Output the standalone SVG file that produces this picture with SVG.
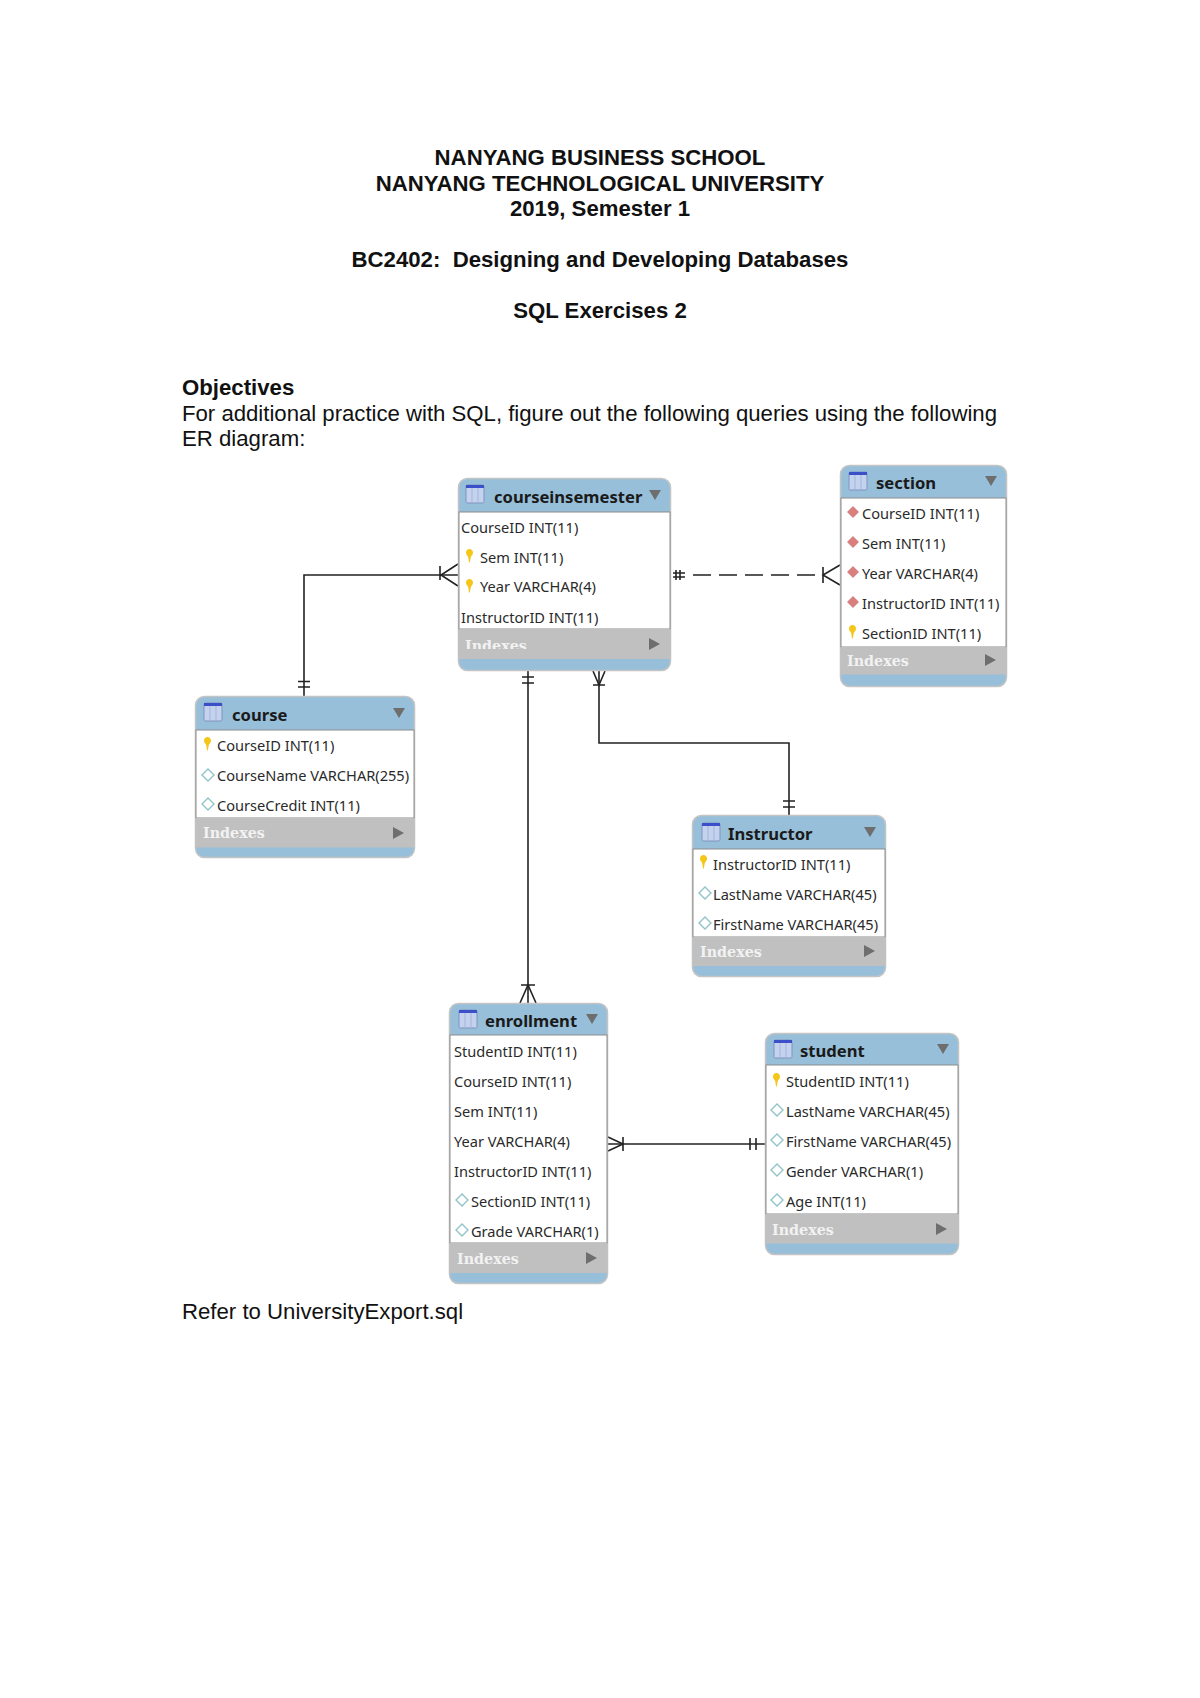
<svg xmlns="http://www.w3.org/2000/svg" width="1200" height="1698" viewBox="0 0 1200 1698">
<style>
.doc{font-family:"Liberation Sans",Arial,sans-serif;font-size:22.2px;fill:#111}
.b{font-weight:bold}
.m{text-anchor:middle}
.f{font-family:"Noto Sans","DejaVu Sans",sans-serif;font-size:14.6px;fill:#2a2a2a}
.h{font-family:"Noto Sans","DejaVu Sans",sans-serif;font-size:16.6px;font-weight:700;fill:#1a1a1a}
.i{font-family:"DejaVu Serif",serif;font-size:14.3px;font-weight:bold;fill:#f2f2f2}
.card{fill:#97bfd9;stroke:#c4c4c4;stroke-width:1.5}
.body{fill:#fff;stroke:#8c8c8c;stroke-width:1}
.band{fill:#c0c0c0}
.tri{fill:#6e6e6e}
.c{fill:none;stroke:#222;stroke-width:1.6}
.d{stroke-dasharray:18 8}
</style>
<defs>
<g id="tbl"><rect x="0" y="0" width="18" height="18" rx="1.5" fill="#c4d2ee" stroke="#7f93c0" stroke-width="1"/><rect x="0" y="0" width="18" height="3" fill="#3a4fc8"/><path d="M6 3V18M12 3V18" stroke="#a3b5dc" stroke-width="1"/></g>
<path id="key" d="M0 3.500C0 1.200 1.700 0 3.500 0S7 1.200 7 3.500C7 6 5.300 6.500 4.800 8L3.800 13.500H3L2.200 8C1.700 6.500 0 6 0 3.500Z" fill="#f5c518"/>
<path id="dia" d="M0 0L6 -6L12 0L6 6Z" fill="#fff" stroke="#8fc4c8" stroke-width="1.400"/>
<path id="fk" d="M0 0L6 -6L12 0L6 6Z" fill="#d9807f" stroke="#e8c4c4" stroke-width="1"/>
<clipPath id="clipIdx"><rect x="459" y="629" width="212" height="20"/></clipPath>
</defs>

<g id="document-text">
<text class="doc b m" x="600" y="165">NANYANG BUSINESS SCHOOL</text>
<text class="doc b m" x="600" y="191">NANYANG TECHNOLOGICAL UNIVERSITY</text>
<text class="doc b m" x="600" y="216">2019, Semester 1</text>
<text class="doc b m" x="600" y="267">BC2402:&#160; Designing and Developing Databases</text>
<text class="doc b m" x="600" y="318">SQL Exercises 2</text>
<text class="doc b" x="182" y="395">Objectives</text>
<text class="doc" x="182" y="421" textLength="815">For additional practice with SQL, figure out the following queries using the following</text>
<text class="doc" x="182" y="446">ER diagram:</text>
<text class="doc" x="182" y="1319">Refer to UniversityExport.sql</text>
</g>

<g id="connectors">
<path class="c" d="M304 696V575H458"/>
<path class="c" d="M298 681.500H310M298 687H310M440 566V580M458 564L441 575L458 586"/>
<path class="c d" d="M693 575H822"/>
<path class="c" d="M676 570V580M680 570V580M673 573H685M673 577H685M823 567V583M840 565L823 575L840 585"/>
<path class="c" d="M528 671V1003"/>
<path class="c" d="M522 677H534M522 683H534M521 985H535M520 1003L528 985L536 1003"/>
<path class="c" d="M599 671V743H789V815"/>
<path class="c" d="M593 685H605M593 671L599 685L605 671M783 801H795M783 807H795"/>
<path class="c" d="M608 1144H765"/>
<path class="c" d="M623 1137V1151M608 1137L623 1144L608 1151M750 1138V1150M756 1138V1150"/>
</g>

<g id="courseinsemester">
<rect class="card" x="458.500" y="478.500" width="212" height="192" rx="9"/>
<rect class="body" x="459" y="512" width="211" height="117"/>
<rect class="band" x="458.500" y="629" width="212" height="30"/>
<use href="#tbl" x="466" y="485"/>
<text class="h" x="494" y="503">courseinsemester</text>
<path class="tri" d="M649 490H661L655 500Z"/>
<text class="f" x="461" y="533">CourseID INT(11)</text>
<use href="#key" x="466" y="549"/><text class="f" x="480" y="563">Sem INT(11)</text>
<use href="#key" x="466" y="579"/><text class="f" x="480" y="592">Year VARCHAR(4)</text>
<text class="f" x="461" y="623">InstructorID INT(11)</text>
<text class="i" x="465" y="651" clip-path="url(#clipIdx)">Indexes</text>
<path class="tri" d="M649 638L660 644L649 650Z"/>
</g>

<g id="section">
<rect class="card" x="840.500" y="465.500" width="166" height="221" rx="9"/>
<rect class="body" x="841" y="498" width="165" height="149"/>
<rect class="band" x="840.500" y="647" width="166" height="27.500"/>
<use href="#tbl" x="849" y="472"/>
<text class="h" x="876" y="489">section</text>
<path class="tri" d="M985 476H997L991 486Z"/>
<use href="#fk" x="847" y="512"/><text class="f" x="862" y="519">CourseID INT(11)</text>
<use href="#fk" x="847" y="542"/><text class="f" x="862" y="549">Sem INT(11)</text>
<use href="#fk" x="847" y="572"/><text class="f" x="862" y="579">Year VARCHAR(4)</text>
<use href="#fk" x="847" y="602"/><text class="f" x="862" y="609">InstructorID INT(11)</text>
<use href="#key" x="849" y="625"/><text class="f" x="862" y="639">SectionID INT(11)</text>
<text class="i" x="847" y="666">Indexes</text>
<path class="tri" d="M985 654L996 660L985 666Z"/>
</g>

<g id="course">
<rect class="card" x="195.500" y="696.500" width="219" height="161" rx="9"/>
<rect class="body" x="196" y="730" width="218" height="88"/>
<rect class="band" x="195.500" y="818" width="219" height="29.500"/>
<use href="#tbl" x="204" y="703"/>
<text class="h" x="232" y="721">course</text>
<path class="tri" d="M393 708H405L399 718Z"/>
<use href="#key" x="204" y="737"/><text class="f" x="217" y="751">CourseID INT(11)</text>
<use href="#dia" x="202" y="775"/><text class="f" x="217" y="781">CourseName VARCHAR(255)</text>
<use href="#dia" x="202" y="804"/><text class="f" x="217" y="811">CourseCredit INT(11)</text>
<text class="i" x="203" y="838">Indexes</text>
<path class="tri" d="M393 827L404 833L393 839Z"/>
</g>

<g id="instructor">
<rect class="card" x="692.500" y="815.500" width="193" height="161" rx="9"/>
<rect class="body" x="693" y="849" width="192" height="88"/>
<rect class="band" x="692.500" y="937" width="193" height="29"/>
<use href="#tbl" x="702" y="823"/>
<text class="h" x="728" y="840">Instructor</text>
<path class="tri" d="M864 827H876L870 837Z"/>
<use href="#key" x="700" y="855"/><text class="f" x="713" y="870">InstructorID INT(11)</text>
<use href="#dia" x="699" y="893"/><text class="f" x="713" y="900">LastName VARCHAR(45)</text>
<use href="#dia" x="699" y="923"/><text class="f" x="713" y="930">FirstName VARCHAR(45)</text>
<text class="i" x="700" y="957">Indexes</text>
<path class="tri" d="M864 945L875 951L864 957Z"/>
</g>

<g id="enrollment">
<rect class="card" x="449.500" y="1003.500" width="158" height="280" rx="9"/>
<rect class="body" x="450" y="1035" width="157" height="208"/>
<rect class="band" x="449.500" y="1243" width="158" height="30"/>
<use href="#tbl" x="459" y="1010"/>
<text class="h" x="485" y="1027">enrollment</text>
<path class="tri" d="M586 1014H598L592 1024Z"/>
<text class="f" x="454" y="1057">StudentID INT(11)</text>
<text class="f" x="454" y="1087">CourseID INT(11)</text>
<text class="f" x="454" y="1117">Sem INT(11)</text>
<text class="f" x="454" y="1147">Year VARCHAR(4)</text>
<text class="f" x="454" y="1177">InstructorID INT(11)</text>
<use href="#dia" x="456" y="1200"/><text class="f" x="471" y="1207">SectionID INT(11)</text>
<use href="#dia" x="456" y="1230"/><text class="f" x="471" y="1237">Grade VARCHAR(1)</text>
<text class="i" x="457" y="1264">Indexes</text>
<path class="tri" d="M586 1252L597 1258L586 1264Z"/>
</g>

<g id="student">
<rect class="card" x="765.500" y="1033.500" width="193" height="221" rx="9"/>
<rect class="body" x="766" y="1065" width="192" height="149"/>
<rect class="band" x="765.500" y="1214" width="193" height="29.500"/>
<use href="#tbl" x="774" y="1040"/>
<text class="h" x="800" y="1057">student</text>
<path class="tri" d="M937 1044H949L943 1054Z"/>
<use href="#key" x="773" y="1073"/><text class="f" x="786" y="1087">StudentID INT(11)</text>
<use href="#dia" x="771" y="1110"/><text class="f" x="786" y="1117">LastName VARCHAR(45)</text>
<use href="#dia" x="771" y="1140"/><text class="f" x="786" y="1147">FirstName VARCHAR(45)</text>
<use href="#dia" x="771" y="1170"/><text class="f" x="786" y="1177">Gender VARCHAR(1)</text>
<use href="#dia" x="771" y="1200"/><text class="f" x="786" y="1207">Age INT(11)</text>
<text class="i" x="772" y="1235">Indexes</text>
<path class="tri" d="M936 1223L947 1229L936 1235Z"/>
</g>
</svg>
